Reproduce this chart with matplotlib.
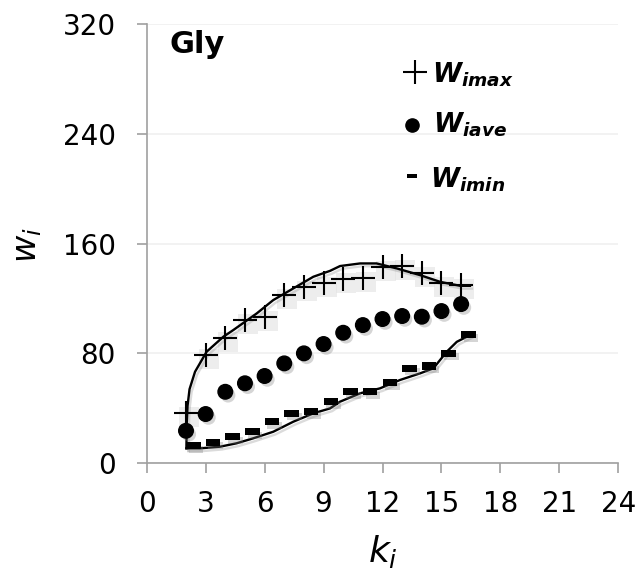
import numpy as np
import matplotlib
matplotlib.use("Agg")
import matplotlib.pyplot as plt
import matplotlib.patheffects as pe
import matplotlib.transforms as mtransforms

plt.rcParams['font.family'] = ['DejaVu Sans']
plt.rcParams['mathtext.fontset'] = 'custom'
plt.rcParams['mathtext.rm'] = 'DejaVu Sans'
plt.rcParams['mathtext.it'] = 'DejaVu Sans:italic'
plt.rcParams['mathtext.bf'] = 'DejaVu Sans:bold'
plt.rcParams['mathtext.bfit'] = 'DejaVu Sans:italic:bold'

# points
k = [2, 3, 4, 5, 6, 7, 8, 9, 10, 11, 12, 13, 14, 15, 16]
w_max = [36.4, 78.9, 91.0, 104.3, 106.8, 122.6, 128.6, 131.5, 134.0, 134.7,
         143.2, 143.7, 138.8, 131.5, 129.8]
w_ave = [23.7, 35.9, 52.1, 58.3, 63.6, 72.8, 80.1, 86.9, 95.1, 100.7,
         105.1, 107.3, 106.8, 110.9, 116.0]
w_min = [12.8, 15.3, 19.4, 23.0, 30.3, 36.4, 37.6, 44.9, 52.1, 52.1,
         58.7, 69.2, 70.9, 80.1, 93.9]

# envelope curves
upper_k = [2.02, 2.04, 2.08, 2.18, 2.46, 3.05, 3.90, 4.41, 5.60, 6.44, 7.46,
           8.48, 9.33, 9.84, 10.86, 11.70, 12.72, 13.91, 14.93, 15.95, 16.45]
upper_w = [11.0, 30.0, 42.0, 54.0, 66.7, 81.3, 92.2, 97.1, 109.2, 118.9, 127.4,
           135.9, 140.2, 143.7, 145.6, 145.6, 142.0, 137.1, 132.2, 129.3, 129.3]
lower_k = [2.02, 2.71, 3.73, 4.58, 5.42, 6.44, 7.46, 8.48, 9.33, 9.84, 10.86,
           11.87, 12.89, 13.91, 14.59, 15.27, 15.78, 16.45]
lower_w = [10.9, 10.9, 12.1, 14.6, 18.2, 23.0, 30.3, 36.4, 40.0, 44.9, 51.0,
           54.6, 60.7, 65.5, 69.2, 81.3, 88.5, 93.4]

x_ticks = [0, 3, 6, 9, 12, 15, 18, 21, 24]
y_ticks = [0, 80, 160, 240, 320]

fig = plt.figure(figsize=(6.42, 5.79), dpi=100)
ax = fig.add_axes([0.2285, 0.1998, 0.7346, 0.7587])

shadow = [pe.SimplePatchShadow(offset=(2, -2.5), shadow_rgbFace='#777777', alpha=0.3), pe.Normal()]
line_shadow = [pe.SimpleLineShadow(offset=(1.5, -2), shadow_color='#888888', alpha=0.3), pe.Normal()]

# envelope lines
for xs, ys in ((upper_k, upper_w), (lower_k, lower_w)):
    ax.plot(xs, ys, color='black', lw=1.7, zorder=3, solid_joinstyle='round',
            path_effects=line_shadow)

# soft box shadow behind the plus markers
box_tr = mtransforms.offset_copy(ax.transData, fig=fig, x=3, y=-4, units='dots')
ax.plot(k, w_max, ls='none', marker='s', ms=15, mew=0, color='#e2e2e2',
        alpha=0.6, transform=box_tr, zorder=2)
ax.plot(k, w_max, ls='none', marker='+', ms=17, mew=1.5, color='black', zorder=4)
ax.plot(k, w_ave, ls='none', marker='o', ms=10.5, color='black',
        zorder=4, path_effects=shadow)
# dash marker sits to the right of its point
dash = [(0, -0.5), (2, -0.5), (2, 0.5), (0, 0.5), (0, -0.5)]
ax.plot(k, w_min, ls='none', marker=dash, ms=21, mew=0, color='black',
        zorder=4, path_effects=shadow)

ax.set_xlim(0, 24)
ax.set_ylim(0, 320)
ax.set_xticks(x_ticks)
ax.set_yticks(y_ticks)
ax.tick_params(labelsize=20, length=7.2, color='#a0a0a0', width=1.2)
ax.tick_params(axis='y', pad=15)
ax.tick_params(axis='x', pad=12)
ax.grid(axis='y', color='#f0f0f0', lw=1.2)
ax.set_axisbelow(True)
for s in ('top', 'right'):
    ax.spines[s].set_visible(False)
for s in ('left', 'bottom'):
    ax.spines[s].set_color('#a0a0a0')
    ax.spines[s].set_linewidth(1.2)

fig.text(383 / 642, 1 - 551 / 579, r'$k_i$', fontsize=26, ha='center', va='center')
fig.text(28 / 642, 1 - 245 / 579, r'$w_i$', fontsize=24, ha='center', va='center',
         rotation=90)

ax.text(0.049, 0.934, 'Gly', transform=ax.transAxes, fontsize=22,
        fontweight='bold', va='baseline', ha='left')

# legend drawn by hand
ax.plot([0.569], [0.891], transform=ax.transAxes, marker='+', ms=17, mew=1.5, color='black')
ax.plot([0.563], [0.770], transform=ax.transAxes, marker='o', ms=9.5, color='black')
ax.plot([0.563], [0.654], transform=ax.transAxes, ls='none',
        marker=[(-1, -0.4), (1, -0.4), (1, 0.4), (-1, 0.4), (-1, -0.4)],
        ms=7, mew=0, color='black')
legend_text = [(0.605, 0.868, r'$\mathbfit{W}_{\mathbfit{imax}}$'),
               (0.607, 0.752, r'$\mathbfit{W}_{\mathbfit{iave}}$'),
               (0.601, 0.629, r'$\mathbfit{W}_{\mathbfit{imin}}$')]
for tx, ty, lab in legend_text:
    ax.text(tx, ty, lab, transform=ax.transAxes, fontsize=19, va='baseline', ha='left')

fig.savefig('out.png', dpi=100)
